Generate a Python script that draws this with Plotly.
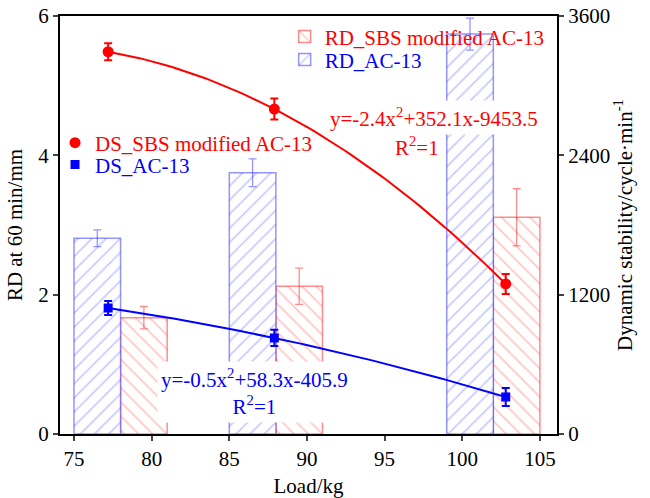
import numpy as np
import plotly.graph_objects as go

# ---- data ----
bar_loads = [78, 88, 102]
rd_ac13 = [2.81, 3.75, 5.74]
rd_ac13_err = [0.12, 0.20, 0.23]
rd_sbs = [1.67, 2.12, 3.11]
rd_sbs_err = [0.16, 0.26, 0.41]

ds_loads = [77.2, 87.9, 102.8]
ds_sbs = [3292, 2799, 1292]
ds_sbs_err = [73, 90, 86]
ds_ac13 = [1085, 827, 319]
ds_ac13_err = [60, 70, 77]

x_ticks = [75, 80, 85, 90, 95, 100, 105]

RED = "#FF0000"
BLUE = "#0000FF"
RED_T = "rgba(255,0,0,0.45)"
BLUE_T = "rgba(0,0,255,0.42)"
FONT = "Liberation Serif, Times New Roman, Liberation Sans, Arial, sans-serif"

fig = go.Figure()

# bars (RD, left axis)
fig.add_trace(go.Bar(
    x=bar_loads, y=rd_sbs, width=3, offset=0,
    name='<span style="color:#FF0000">RD_SBS modified AC-13</span>',
    marker=dict(color="white", line=dict(color=RED_T, width=1.5),
                pattern=dict(shape="\\", fgcolor=RED_T, bgcolor="white", size=10, solidity=0.17)),
    error_y=dict(type="data", array=rd_sbs_err, color=RED_T, thickness=1.3, width=4),
    legend="legend"))
fig.add_trace(go.Bar(
    x=bar_loads, y=rd_ac13, width=3, offset=-3,
    name='<span style="color:#0000FF">RD_AC-13</span>',
    marker=dict(color="white", line=dict(color=BLUE_T, width=1.5),
                pattern=dict(shape="/", fgcolor=BLUE_T, bgcolor="white", size=10, solidity=0.17)),
    error_y=dict(type="data", array=rd_ac13_err, color=BLUE_T, thickness=1.3, width=4),
    legend="legend2"))

# quadratic fit curves through DS points (right axis)
for xs, ys, col in [(ds_loads, ds_sbs, RED), (ds_loads, ds_ac13, BLUE)]:
    c = np.polyfit(xs, ys, 2)
    xf = np.linspace(min(xs), max(xs), 80)
    fig.add_trace(go.Scatter(x=xf, y=np.polyval(c, xf), mode="lines",
                             line=dict(color=col, width=2), yaxis="y2",
                             showlegend=False, hoverinfo="skip"))

fig.add_trace(go.Scatter(
    x=ds_loads, y=ds_sbs, mode="markers", yaxis="y2",
    name='<span style="color:#FF0000">DS_SBS modified AC-13</span>',
    marker=dict(symbol="circle", size=11, color=RED),
    error_y=dict(type="data", array=ds_sbs_err, color=RED, thickness=2, width=4),
    legend="legend3"))
fig.add_trace(go.Scatter(
    x=ds_loads, y=ds_ac13, mode="markers", yaxis="y2",
    name='<span style="color:#0000FF">DS_AC-13</span>',
    marker=dict(symbol="square", size=9, color=BLUE),
    error_y=dict(type="data", array=ds_ac13_err, color=BLUE, thickness=2, width=4),
    legend="legend4"))

annots = [
    dict(x=98.2, y=4.54, text="y=-2.4x<sup>2</sup>+352.1x-9453.5", color=RED),
    dict(x=97.1, y=4.12, text="R<sup>2</sup>=1", color=RED),
    dict(x=86.6, y=0.61, text="y=-0.5x<sup>2</sup>+58.3x-405.9<br>R<sup>2</sup>=1", color=BLUE),
]
for a in annots:
    fig.add_annotation(xref="x", yref="y", showarrow=False, bgcolor="white",
                       borderpad=3, x=a["x"], y=a["y"], text=a["text"],
                       font=dict(family=FONT, size=21, color=a["color"]))

axis_common = dict(showgrid=False, zeroline=False, ticks="outside", ticklen=5, tickwidth=2,
                   linecolor="black", linewidth=2, showline=True, automargin=False,
                   tickfont=dict(family=FONT, size=21, color="black"))

leg_common = dict(xanchor="left", yanchor="middle", bgcolor="rgba(0,0,0,0)",
                  font=dict(family=FONT, size=21), itemwidth=30)

fig.update_layout(
    width=650, height=498,
    margin=dict(l=60, r=93, t=16, b=64, autoexpand=False),
    paper_bgcolor="white", plot_bgcolor="white",
    barmode="overlay",
    font=dict(family=FONT, size=21, color="black"),
    xaxis=dict(range=[74.1, 106.1], tickvals=x_ticks, mirror=True,
               title=dict(text="Load/kg", font=dict(family=FONT, size=21), standoff=16),
               **axis_common),
    yaxis=dict(range=[0, 6], tickvals=[0, 2, 4, 6],
               title=dict(text="RD at 60 min/mm", font=dict(family=FONT, size=21), standoff=10),
               **axis_common),
    yaxis2=dict(range=[0, 3600], tickvals=[0, 1200, 2400, 3600], overlaying="y", side="right",
                title=dict(text="Dynamic stability/cycle·min<sup>-1</sup>", font=dict(family=FONT, size=21), standoff=8),
                **axis_common),
    legend=dict(x=0.452, y=0.950, **leg_common),
    legend2=dict(x=0.452, y=0.895, **leg_common),
    legend3=dict(x=-0.01, y=0.696, **leg_common),
    legend4=dict(x=-0.01, y=0.644, **leg_common),
)

fig.write_html("out.html", config={"displayModeBar": False},
               post_script="document.body.style.margin='0px';")
